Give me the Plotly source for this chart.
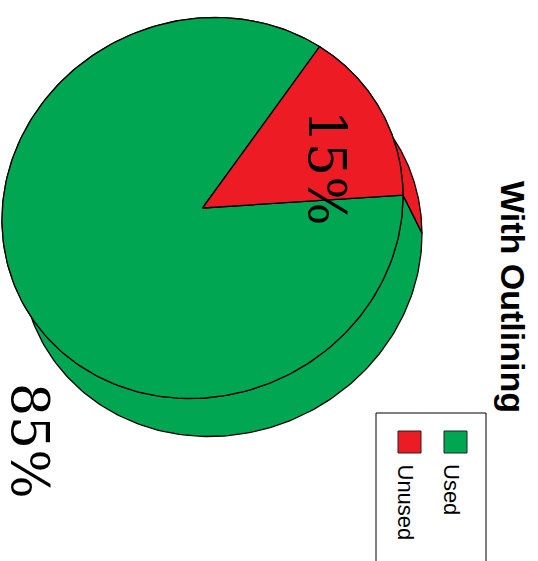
import numpy as np
import plotly.graph_objects as go

# ---- data ----
categories = ["Used", "Unused"]
values = [85, 15]
colors = ["#00A651", "#ED1C24"]
chart_title = "With Outlining"

SERIF = "DejaVu Serif"
SANS = "Arial"

# ---- page / projection geometry (pixels) ----
W, H = 538, 561
center = np.array([202.5, 208.0])            # centre of the top face
shape_m = np.array([[40200.0, -2400.0],       # quadratic form of the tilted ellipse
                    [-2400.0, 36290.0]])
depth = np.array([19.0, 38.0])                # extrusion offset of the lower face
start_deg = 23.4                              # first slice starts here, clockwise

evals, evecs = np.linalg.eigh(shape_m)
v1 = evecs[:, 1]
if v1[0] < 0:
    v1 = -v1
v2 = np.array([-v1[1], v1[0]])
a, b = np.sqrt(evals[1]), np.sqrt(evals[0])
P = np.column_stack([a * v1, b * v2])


def arc(t0, t1, offset=np.zeros(2), n=240):
    t = np.radians(np.linspace(t0, t1, n))
    pts = center[:, None] + P @ np.vstack([np.cos(t), np.sin(t)]) + offset[:, None]
    return pts[0], pts[1]


total = float(sum(values))
spans = [360.0 * v / total for v in values]
bounds = []
t = start_deg
for s in spans:
    bounds.append((t, t + s))
    t += s

fig = go.Figure()
line = dict(color="black", width=1.3)

# side walls
for (t0, t1), col in zip(bounds, colors):
    xt, yt = arc(t0, t1)
    xb, yb = arc(t0, t1, depth)
    xs = np.concatenate([xt, xb[::-1], xt[:1]])
    ys = np.concatenate([yt, yb[::-1], yt[:1]])
    fig.add_trace(go.Scatter(x=xs, y=ys, mode="lines", fill="toself",
                             fillcolor=col, line=line, hoverinfo="skip",
                             showlegend=False))

# top face wedges
for (t0, t1), col in zip(bounds, colors):
    xt, yt = arc(t0, t1)
    xs = np.concatenate([[center[0]], xt, [center[0]]])
    ys = np.concatenate([[center[1]], yt, [center[1]]])
    fig.add_trace(go.Scatter(x=xs, y=ys, mode="lines", fill="toself",
                             fillcolor=col, line=line, hoverinfo="skip",
                             showlegend=False))

# percentage labels
label_pos = [(30, 441), (327, 168)]
for v, (lx, ly) in zip(values, label_pos):
    fig.add_annotation(x=lx, y=ly, text=f"{round(100 * v / total)}%",
                       showarrow=False, textangle=90,
                       xanchor="center", yanchor="middle",
                       font=dict(family=SERIF, size=52, color="black"))

# title
fig.add_annotation(x=513, y=297, text=f"<b>{chart_title}</b>", showarrow=False,
                   textangle=90, xanchor="center", yanchor="middle",
                   font=dict(family=SANS, size=34, color="black"))

# legend box and entries
shapes = [dict(type="rect", x0=376, y0=413, x1=486, y1=580,
               line=dict(color="black", width=1), fillcolor="rgba(0,0,0,0)")]
legend_x = [455.5, 409.5]
for cat, col, lx in zip(categories, colors, legend_x):
    shapes.append(dict(type="rect", x0=lx - 11.5, x1=lx + 11.5, y0=431, y1=453,
                       line=dict(color="#222", width=1), fillcolor=col))
    fig.add_annotation(x=lx - 4, y=462, text=cat, showarrow=False, textangle=90,
                       xanchor="center", yanchor="top",
                       font=dict(family=SANS, size=22, color="black"))

fig.update_layout(
    width=W, height=H, margin=dict(l=0, r=0, t=0, b=0),
    paper_bgcolor="white", plot_bgcolor="white",
    shapes=shapes,
    xaxis=dict(range=[0, W], visible=False, fixedrange=True),
    yaxis=dict(range=[H, 0], visible=False, fixedrange=True),
    showlegend=False,
)

fig.write_html("out.html")
